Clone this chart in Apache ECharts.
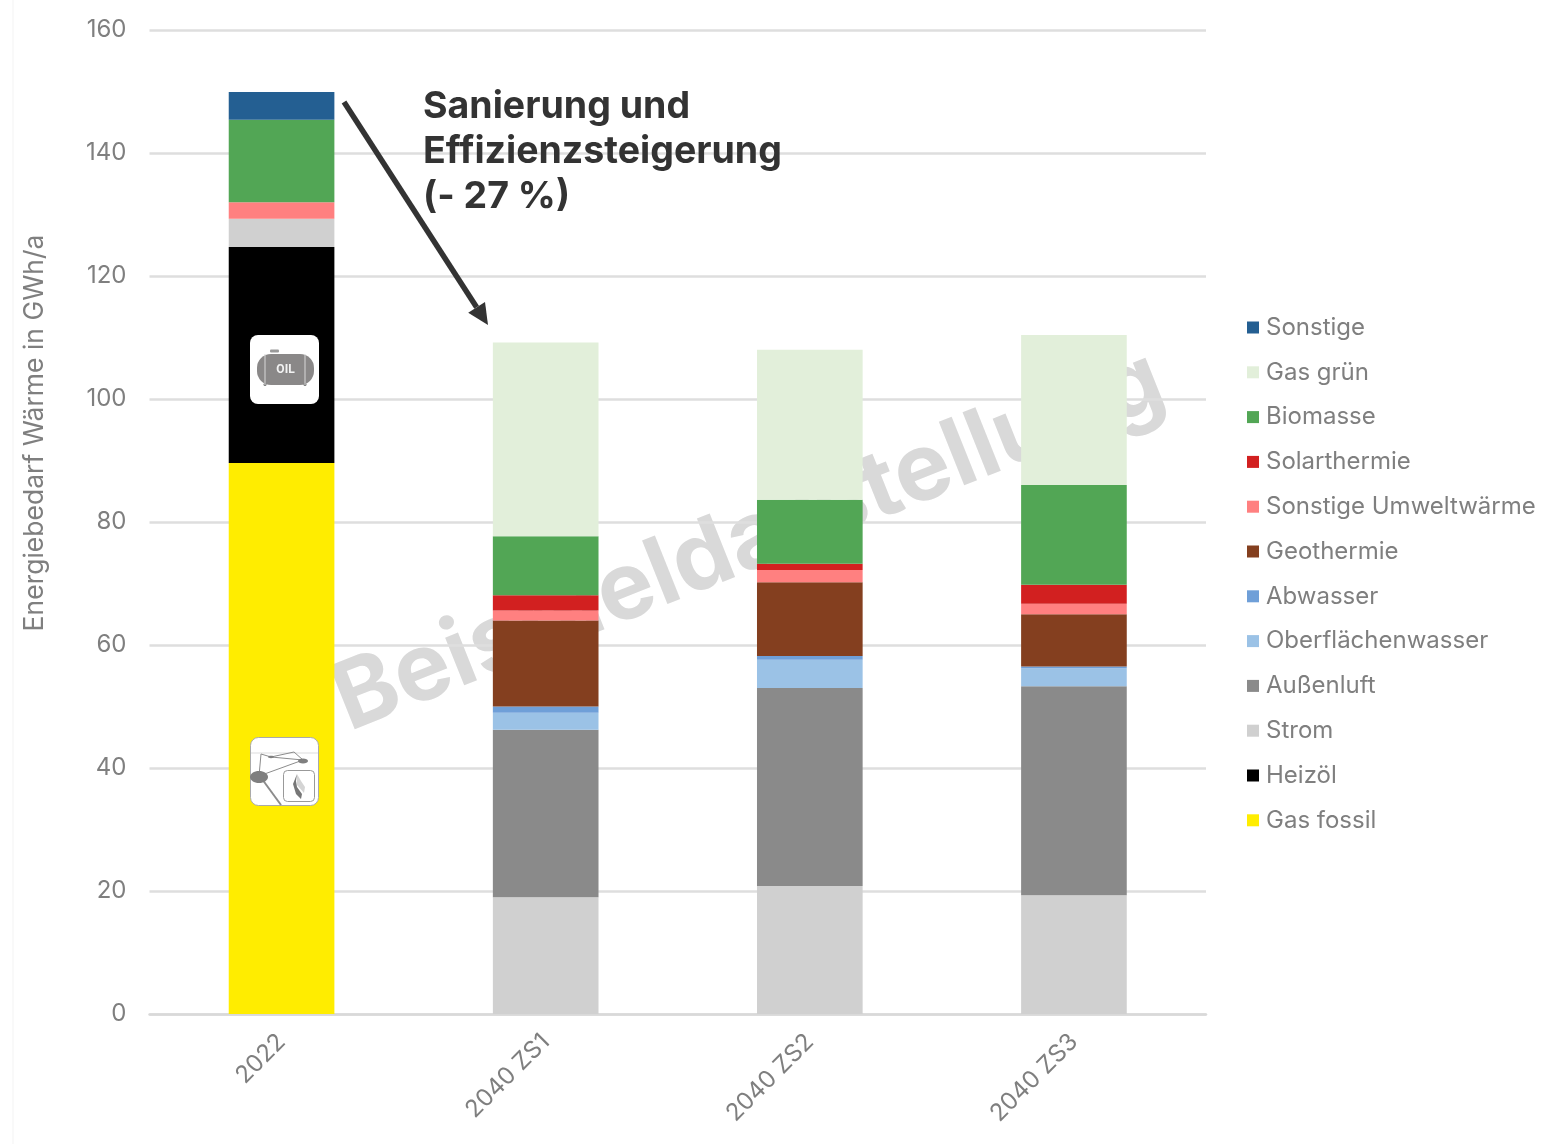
<!DOCTYPE html>
<html><head><meta charset="utf-8">
<style>html,body{margin:0;padding:0;background:#fff}#c{width:1547px;height:1144px;filter:blur(0.5px)}</style>
<script src="https://cdn.jsdelivr.net/npm/echarts@6/dist/echarts.min.js"></script>
</head><body><div id="c"></div>
<script>
const categories = ['2022','2040 ZS1','2040 ZS2','2040 ZS3'];
const gasFossil   = [89.6, 0, 0, 0];
const heizoel     = [35.1, 0, 0, 0];
const strom       = [4.6, 19.0, 20.8, 19.3];
const aussenluft  = [0, 27.2, 32.2, 34.0];
const oberflaeche = [0, 2.8, 4.6, 2.9];
const abwasser    = [0, 1.0, 0.6, 0.3];
const geothermie  = [0, 14.0, 12.0, 8.5];
const umwelt      = [2.7, 1.6, 2.0, 1.7];
const solar       = [0, 2.5, 1.0, 3.1];
const biomasse    = [13.4, 9.6, 10.4, 16.2];
const gasGruen    = [0, 31.5, 24.4, 24.4];
const sonstige    = [4.5, 0, 0, 0];

const yTicks = {min:0, max:160, interval:20};
const FONT = 'Inter, "Noto Sans", sans-serif';
const GREY = '#7f7f7f';

const stackDefs = [
  ['Gas fossil', gasFossil, '#ffed00'],
  ['Heizöl', heizoel, '#000000'],
  ['Strom', strom, '#d0d0d0'],
  ['Außenluft', aussenluft, '#8a8a8a'],
  ['Oberflächenwasser', oberflaeche, '#9bc2e6'],
  ['Abwasser', abwasser, '#6f9fd8'],
  ['Geothermie', geothermie, '#843f1f'],
  ['Sonstige Umweltwärme', umwelt, '#ff8080'],
  ['Solarthermie', solar, '#d22020'],
  ['Biomasse', biomasse, '#52a655'],
  ['Gas grün', gasGruen, '#e2efda'],
  ['Sonstige', sonstige, '#245f92']
];

const chart = echarts.init(document.getElementById('c'), null, {renderer:'canvas'});

const ax=344, ay=102, bx=488, by=325;
const ang=Math.atan2(by-ay,bx-ax), hl=21, hw=10;
const tipBase=[bx-hl*Math.cos(ang), by-hl*Math.sin(ang)];

function tankIcon(){
  return {type:'group', x:250, y:335, z:10, children:[
    {type:'rect', shape:{x:0,y:0,width:69,height:69,r:8}, style:{fill:'#fff'}, z:10},
    {type:'rect', shape:{x:7,y:19,width:57,height:31,r:[14,14,14,14]}, style:{fill:'#8a8888'}, z:11},
    {type:'line', shape:{x1:15,y1:19,x2:15,y2:50}, style:{stroke:'#d8d8d8',lineWidth:1}, z:12},
    {type:'line', shape:{x1:55,y1:19,x2:55,y2:50}, style:{stroke:'#d8d8d8',lineWidth:1}, z:12},
    {type:'rect', shape:{x:20,y:14.5,width:9,height:3,r:1}, style:{fill:'#9a9a9a'}, z:11},
    {type:'circle', shape:{cx:15,cy:49.5,r:1.5}, style:{fill:'#777'}, z:11},
    {type:'circle', shape:{cx:55,cy:49.5,r:1.5}, style:{fill:'#777'}, z:11},
    {type:'text', style:{x:35.5,y:34.5,text:'OIL',fill:'#f2f2f2',font:'bold 12px "Roboto", sans-serif',align:'center',verticalAlign:'middle'}, z:12}
  ]};
}
function gasIcon(){
  const l=(x1,y1,x2,y2,w)=>({type:'line', shape:{x1,y1,x2,y2}, style:{stroke:'#8c8c8c',lineWidth:w||1}, z:12});
  return {type:'group', x:250, y:737, z:10, children:[
    {type:'rect', shape:{x:0.5,y:0.5,width:68,height:68,r:8}, style:{fill:'#fff',stroke:'#aaa',lineWidth:1}, z:10},
    {type:'line', shape:{x1:1,y1:16,x2:68,y2:16}, style:{stroke:'#ddd',lineWidth:1}, z:11},
    l(9,39,11,17), l(11,17,21,20), l(21,20,44,15), l(44,15,53,23), l(21,20,53,23), l(9,39,53,23),
    l(12,42,31,68,2),
    {type:'ellipse', shape:{cx:9,cy:40,rx:9,ry:6}, style:{fill:'#7f7f7f'}, z:13},
    {type:'ellipse', shape:{cx:53,cy:24,rx:5,ry:2.5}, style:{fill:'#7f7f7f'}, z:13},
    {type:'ellipse', shape:{cx:21,cy:20,rx:3,ry:1.2}, style:{fill:'#7f7f7f'}, z:13},
    {type:'rect', shape:{x:33.5,y:33.5,width:31,height:31,r:4}, style:{fill:'#fff',stroke:'#999',lineWidth:1}, z:13},
    {type:'polygon', shape:{points:[[47,37],[47,48],[54,56],[55,50],[51,44]]}, style:{fill:'#d4d4d4'}, z:14},
    {type:'polygon', shape:{points:[[47,37],[43,47],[46,57],[51,62],[52,57],[47,50],[46,44]]}, style:{fill:'#777'}, z:15}
  ]};
}

chart.setOption({
  animation:false,
  backgroundColor:'#fff',
  textStyle:{fontFamily:FONT},
  grid:{left:149.5,right:341,top:30,bottom:130},
  legend:{
    orient:'vertical', left:1242, top:307.5,
    data:stackDefs.map(d=>d[0]).reverse(),
    icon:'rect', itemWidth:12, itemHeight:12, itemGap:14.8,
    textStyle:{color:GREY, fontSize:24, fontFamily:FONT, lineHeight:30, padding:[0,0,0,2]}
  },
  xAxis:{
    type:'category', data:categories,
    axisLine:{lineStyle:{color:'#d9d9d9',width:2.5}}, axisTick:{show:false},
    axisLabel:{color:GREY, fontSize:24, fontFamily:FONT, rotate:45, margin:24, interval:0}
  },
  yAxis:{
    type:'value', min:yTicks.min, max:yTicks.max, interval:yTicks.interval,
    name:'Energiebedarf Wärme in GWh/a', nameLocation:'middle', nameGap:101, nameRotate:90,
    nameTextStyle:{color:GREY, fontSize:26.5, fontFamily:FONT, padding:[0,0,0,178]},
    axisLine:{show:false}, axisTick:{show:false},
    axisLabel:{color:GREY, fontSize:24, fontFamily:FONT, margin:23, padding:[4,0,0,0]},
    splitLine:{lineStyle:{color:'#dedede',width:2.5}}
  },
  graphic:[
    {type:'line', z:-2, shape:{x1:13,y1:0,x2:13,y2:1144}, style:{stroke:'#f7f7f7',lineWidth:1.5}},
    {type:'text', rotation:21.8*Math.PI/180, x:749, y:541, z:-1, silent:true,
     style:{text:'Beispieldarstellung', fill:'#d9d9d9', font:'bold 94px '+FONT, align:'center', verticalAlign:'middle'}},
    {type:'line', z:20, shape:{x1:ax,y1:ay,x2:tipBase[0],y2:tipBase[1]}, style:{stroke:'#333',lineWidth:5.5}},
    {type:'polygon', z:20, shape:{points:[[bx,by],
      [tipBase[0]-hw*Math.sin(ang),tipBase[1]+hw*Math.cos(ang)],
      [tipBase[0]+hw*Math.sin(ang),tipBase[1]-hw*Math.cos(ang)]]}, style:{fill:'#333'}},
    {type:'text', x:423, y:84, z:20, style:{text:'Sanierung und\nEffizienzsteigerung\n(- 27 %)', fill:'#333', font:'bold 37.5px '+FONT, lineHeight:45}},
    tankIcon(), gasIcon()
  ],
  series:stackDefs.map(d=>({
    name:d[0], type:'bar', stack:'w', barWidth:'40%', data:d[1],
    itemStyle:{color:d[2]}, emphasis:{disabled:true}
  }))
});
</script></body></html>
